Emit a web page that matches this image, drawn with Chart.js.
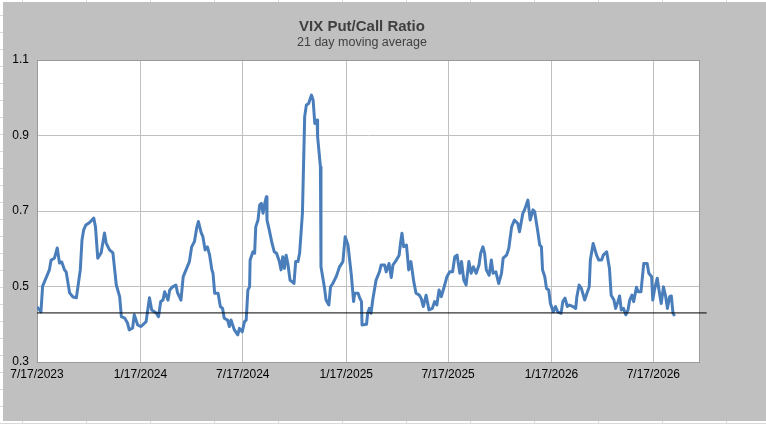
<!DOCTYPE html>
<html>
<head>
<meta charset="utf-8">
<script src="https://cdn.jsdelivr.net/npm/chart.js@4.4.0/dist/chart.umd.min.js"></script>
<style>
html, body {
  margin: 0; padding: 0; width: 766px; height: 424px; overflow: hidden;
  background-color: #fff;
  background-image: linear-gradient(to right, #d9d9d9 1px, transparent 1px),
                    linear-gradient(to bottom, #d9d9d9 1px, transparent 1px);
  background-size: 64px 17px;
  background-position: 22px 15px;
}
#frame { position: absolute; left: 3px; top: 2px; width: 763px; height: 419px; background: #c0c0c0; }
#vix_chart { position: absolute; left: 0; top: 0; }
</style>
</head>
<body>
<div id="frame"></div>
<canvas id="vix_chart" width="766" height="424"></canvas>
<script>
// days since 7/17/2023
const days = [0,7,10,16,22,25,31,36,40,44,49,52,58,64,70,72,77,80,83,87,93,101,104,108,114,120,123,129,135,141,
  147,150,156,161,164,170,173,179,185,194,200,204,212,216,220,224,227,233,236,241,247,250,256,260,265,271,275,280,284,287,
  292,295,299,303,307,311,313,316,322,326,330,333,339,342,345,351,357,360,365,369,372,375,378,379,384,387,389,393,396,399,
  402,405,408,409,413,418,422,426,431,434,437,440,443,446,450,457,460,464,467,472,476,479,483,488,491,494,498,499,504,505,
  511,514,519,522,526,532,538,544,548,553,559,563,565,571,574,577,578,586,588,591,594,597,600,603,609,612,618,621,626,630,
  633,639,644,646,649,652,657,661,665,670,674,680,683,687,692,697,703,707,711,715,719,725,729,734,739,743,747,752,755,759,
  763,768,772,776,781,786,789,793,796,799,804,808,811,816,821,826,829,835,839,844,849,855,858,864,867,873,877,882,885,891,
  894,897,899,903,906,910,913,918,922,926,932,935,939,943,947,953,958,960,964,968,974,978,982,984,989,995,999,1004,1007,1013,
  1018,1021,1026,1029,1033,1036,1039,1043,1047,1051,1054,1058,1061,1066,1069,1074,1079,1085,1088,1093,1095,1098,1103,1106,1110,1114,
  1118,1121,1125,1128,1131,1134];

// 21 day moving average of the VIX put/call ratio
const put_call_ratio = [0.446,0.433,0.501,0.522,0.544,0.570,0.575,0.602,0.562,0.565,0.544,0.538,0.483,0.472,0.470,0.491,0.544,0.623,0.650,0.663,0.669,0.681,0.658,0.575,0.589,0.642,0.615,0.597,0.589,0.504,
  0.473,0.420,0.416,0.403,0.385,0.390,0.425,0.398,0.394,0.407,0.470,0.438,0.430,0.420,0.460,0.464,0.486,0.464,0.491,0.499,0.504,0.483,0.464,0.526,0.544,0.566,0.605,0.619,0.655,0.672,
  0.642,0.632,0.597,0.605,0.583,0.544,0.535,0.482,0.482,0.447,0.442,0.416,0.411,0.394,0.411,0.385,0.372,0.389,0.380,0.407,0.411,0.491,0.499,0.570,0.592,0.588,0.658,0.676,0.716,0.720,
  0.694,0.720,0.738,0.676,0.650,0.614,0.592,0.588,0.566,0.544,0.579,0.548,0.583,0.561,0.517,0.508,0.566,0.566,0.588,0.694,0.950,0.981,0.985,1.007,0.994,0.932,0.941,0.897,0.817,0.552,
  0.499,0.464,0.451,0.499,0.508,0.526,0.552,0.566,0.632,0.610,0.530,0.460,0.482,0.482,0.469,0.460,0.398,0.400,0.429,0.442,0.429,0.464,0.491,0.517,0.539,0.557,0.557,0.539,0.561,0.524,
  0.557,0.570,0.583,0.610,0.641,0.605,0.610,0.544,0.566,0.513,0.482,0.477,0.469,0.447,0.477,0.438,0.442,0.460,0.451,0.491,0.473,0.504,0.526,0.539,0.539,0.579,0.583,0.535,0.566,0.517,
  0.504,0.566,0.535,0.552,0.535,0.557,0.588,0.605,0.588,0.544,0.530,0.570,0.535,0.539,0.508,0.535,0.575,0.583,0.601,0.658,0.676,0.667,0.645,0.694,0.703,0.729,0.676,0.703,0.698,0.641,
  0.610,0.605,0.544,0.526,0.495,0.491,0.455,0.433,0.447,0.433,0.429,0.460,0.469,0.447,0.451,0.447,0.442,0.473,0.504,0.495,0.464,0.482,0.499,0.570,0.614,0.583,0.570,0.570,0.583,0.592,
  0.548,0.477,0.464,0.442,0.460,0.475,0.438,0.442,0.425,0.438,0.464,0.477,0.460,0.498,0.486,0.486,0.561,0.561,0.535,0.526,0.464,0.491,0.522,0.491,0.455,0.499,
  0.473,0.442,0.473,0.475,0.429,0.422];

const reference_level = 0.43;

const x_tick_days = [0, 184, 366, 550, 731, 915, 1096];
const x_tick_labels = ["7/17/2023", "1/17/2024", "7/17/2024", "1/17/2025", "7/17/2025", "1/17/2026", "7/17/2026"];
const x_max_day = 1179;
const y_ticks = [0.3, 0.5, 0.7, 0.9, 1.1];

const font_family = "'Liberation Sans', Arial, sans-serif";

// white plot area, its frame, and the two title lines
const frame_plugin = {
  id: "frame_plugin",
  beforeDraw(chart) {
    const a = chart.chartArea, ctx = chart.ctx;
    ctx.save();
    ctx.fillStyle = "#ffffff";
    ctx.fillRect(a.left, a.top, a.right - a.left, a.bottom - a.top);
    ctx.fillStyle = "#404040";
    ctx.textAlign = "center";
    ctx.textBaseline = "middle";
    ctx.font = "bold 15px " + font_family;
    ctx.fillText("VIX Put/Call Ratio", 362, 27);
    ctx.font = "12.5px " + font_family;
    ctx.fillText("21 day moving average", 362, 43);
    ctx.restore();
  },
  beforeDatasetsDraw(chart) {
    const a = chart.chartArea, ctx = chart.ctx;
    ctx.save();
    ctx.strokeStyle = "#9a9a9a";
    ctx.lineWidth = 1;
    ctx.strokeRect(a.left + 0.5, a.top + 0.5, a.right - a.left - 1, a.bottom - a.top);
    ctx.restore();
  }
};

const ratio_points = days.map((d, i) => ({ x: d, y: put_call_ratio[i] }));

new Chart(document.getElementById("vix_chart").getContext("2d"), {
  type: "line",
  data: {
    datasets: [{
      label: "Reference",
      data: [{ x: 0, y: reference_level }, { x: x_max_day + 12, y: reference_level }],
      borderColor: "#000000",
      borderWidth: 1,
      pointRadius: 0,
      clip: { left: 0, top: 0, right: 8, bottom: 0 },
      order: 0
    }, {
      label: "VIX Put/Call Ratio",
      data: ratio_points,
      borderColor: "#4a7ebb",
      borderWidth: 3,
      pointRadius: 0,
      lineTension: 0,
      borderJoinStyle: "round",
      order: 1
    }]
  },
  options: {
    responsive: false,
    animation: false,
    devicePixelRatio: 1,
    layout: { padding: { left: 3, top: 60, right: 66, bottom: 0 } },
    plugins: { legend: { display: false }, tooltip: { enabled: false } },
    scales: {
      x: {
        type: "linear",
        min: 0,
        max: x_max_day,
        afterBuildTicks: (scale) => { scale.ticks = x_tick_days.map(v => ({ value: v })); },
        afterFit: (scale) => { scale.height = 62; },
        grid: { color: "#c0c0c0", drawTicks: false },
        border: { display: false },
        ticks: {
          padding: 5,
          maxRotation: 0,
          autoSkip: false,
          color: "#000000",
          font: { family: font_family, size: 12 },
          callback: (v) => x_tick_labels[x_tick_days.indexOf(v)]
        }
      },
      y: {
        min: 0.3,
        max: 1.1,
        afterBuildTicks: (scale) => { scale.ticks = y_ticks.map(v => ({ value: v })); },
        afterFit: (scale) => { scale.width = 34; },
        grid: { color: "#c0c0c0", drawTicks: false },
        border: { display: false },
        ticks: {
          padding: 8,
          color: "#000000",
          font: { family: font_family, size: 12 },
          callback: (v) => v.toFixed(1)
        }
      }
    }
  },
  plugins: [frame_plugin]
});
</script>
</body>
</html>
